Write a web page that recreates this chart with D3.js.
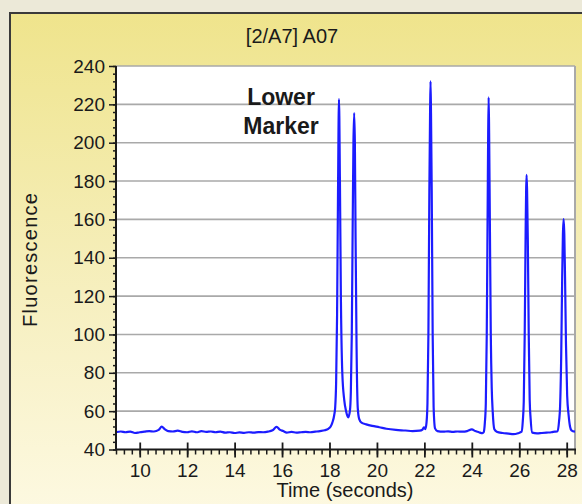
<!DOCTYPE html>
<html>
<head>
<meta charset="utf-8">
<script src="https://cdn.jsdelivr.net/npm/d3@7"></script>
<style>
  body { margin: 0; background: #ece9d8; }
  svg { display: block; }
  text { font-family: "Liberation Sans", Arial, sans-serif; fill: #1a1a1a; }
</style>
</head>
<body>
<div id="chart"></div>
<script>
// chart text
const chartTitle = "[2/A7] A07";
const xLabel = "Time (seconds)";
const yLabel = "Fluorescence";
const markerLines = ["Lower", "Marker"];

// axis ticks
const xTicks = [10, 12, 14, 16, 18, 20, 22, 24, 26, 28];
const yTicks = [40, 60, 80, 100, 120, 140, 160, 180, 200, 220, 240];

// trace: time (s) and fluorescence
const traceTime = [
  9.0, 9.2, 9.4, 9.6, 9.8, 10.0, 10.2, 10.4, 10.6, 10.8, 10.93, 11.05, 11.2, 11.4, 11.6, 11.8,
  12.0, 12.2, 12.4, 12.6, 12.8, 13.0, 13.2, 13.4, 13.6, 13.8, 14.0, 14.2, 14.4, 14.6, 14.8,
  15.0, 15.2, 15.4, 15.6, 15.77, 15.9, 16.05, 16.2, 16.4, 16.6, 16.8, 17.0, 17.2, 17.4, 17.6,
  17.8, 17.95, 18.05, 18.12,
  18.2, 18.24, 18.28, 18.32, 18.36, 18.40, 18.44, 18.48, 18.54, 18.62, 18.70, 18.79,
  18.86, 18.90, 18.94, 18.98, 19.01, 19.04, 19.07, 19.10, 19.14, 19.19, 19.25,
  19.35, 19.55, 19.8, 20.1, 20.4, 20.8, 21.2, 21.5, 21.8, 21.92, 21.98, 22.04,
  22.09, 22.13, 22.17, 22.21, 22.24, 22.26, 22.28, 22.31, 22.35, 22.39, 22.45, 22.55,
  22.8, 23.0, 23.2, 23.4, 23.6, 23.8, 24.0, 24.15, 24.3, 24.45,
  24.5, 24.55, 24.59, 24.63, 24.67, 24.69, 24.71, 24.73, 24.76, 24.80, 24.84, 24.88, 24.95, 25.05,
  25.3, 25.55, 25.75, 25.95, 26.1,
  26.15, 26.19, 26.23, 26.27, 26.29, 26.31, 26.33, 26.36, 26.40, 26.44, 26.48, 26.55,
  26.75, 26.95, 27.15, 27.35, 27.5, 27.62,
  27.68, 27.72, 27.77, 27.81, 27.84, 27.87, 27.90, 27.93, 27.97, 28.02, 28.08, 28.14, 28.2, 28.35
];
const traceFluor = [
  49.0, 49.4, 49.0, 49.3, 48.6, 49.0, 49.3, 49.6, 49.4, 50.2, 51.9, 50.6, 49.6, 49.4, 49.8, 49.2,
  49.0, 49.5, 49.0, 49.6, 49.2, 49.4, 49.0, 49.3, 48.8, 49.0, 48.6, 48.9, 48.7, 49.0, 48.8,
  49.1, 49.0, 49.3, 50.0, 51.8, 50.4, 49.6, 48.8, 49.2, 48.8, 49.0, 49.2, 49.0, 49.3, 49.6,
  50.0, 50.8, 52.0, 54.0,
  58, 62, 75, 110, 175, 222.7, 180, 120, 80, 66, 60, 56.8,
  60, 70, 100, 160, 200, 215.5, 200, 150, 95, 62, 56,
  54.0, 53.1, 52.3, 51.6, 50.8, 50.2, 49.9, 49.6, 49.8, 50.4, 51.5, 50.6,
  54, 64, 100, 175, 215, 232, 215, 175, 100, 62, 51, 49.6,
  49.3, 49.5, 49.2, 49.4, 49.3, 49.6, 50.5, 49.6, 49.0, 48.5,
  49, 54, 64, 100, 170, 205, 223.7, 205, 160, 100, 72, 60, 50.5, 49.3,
  48.6, 48.3, 48.0, 48.5, 49.3,
  55, 65, 100, 155, 175, 183.2, 175, 150, 100, 66, 56, 48.8,
  48.4, 48.6, 48.8, 49.0, 49.3, 49.5,
  55, 62, 90, 130, 152, 160.2, 152, 130, 95, 68, 58, 52, 50, 49.3
];

const W = 582, H = 504;
const plot = { left: 116, right: 575, top: 66, bottom: 449.5 };

const svg = d3.select("#chart").append("svg")
  .attr("width", W)
  .attr("height", H);

// panel gradient
const defs = svg.append("defs");
const grad = defs.append("linearGradient")
  .attr("id", "panelGrad")
  .attr("x1", 0).attr("y1", 0).attr("x2", 0).attr("y2", 1);
grad.append("stop").attr("offset", "0%").attr("stop-color", "#efe48c");
grad.append("stop").attr("offset", "55%").attr("stop-color", "#f6efbe");
grad.append("stop").attr("offset", "100%").attr("stop-color", "#fdf9e2");

defs.append("clipPath").attr("id", "plotClip")
  .append("rect")
  .attr("x", plot.left).attr("y", plot.top)
  .attr("width", plot.right - plot.left)
  .attr("height", plot.bottom - plot.top);

// background panel
svg.append("rect")
  .attr("x", 10).attr("y", 13)
  .attr("width", W).attr("height", H)
  .attr("fill", "url(#panelGrad)")
  .attr("stroke", "#3a3a3a")
  .attr("stroke-width", 2);

// scales
const x = d3.scaleLinear().domain([9, 28.35]).range([plot.left, plot.right]);
const y = d3.scaleLinear().domain([40, 240]).range([plot.bottom, plot.top]);

// plot area
svg.append("rect")
  .attr("x", plot.left).attr("y", plot.top)
  .attr("width", plot.right - plot.left)
  .attr("height", plot.bottom - plot.top)
  .attr("fill", "#fff");

// gridlines
svg.append("g")
  .selectAll("line")
  .data(yTicks.filter(d => d > 40))
  .enter().append("line")
  .attr("x1", plot.left).attr("x2", plot.right)
  .attr("y1", d => y(d)).attr("y2", d => y(d))
  .attr("stroke", "#a9a9a9")
  .attr("stroke-width", 1.6);

// right border
svg.append("line")
  .attr("x1", plot.right).attr("x2", plot.right)
  .attr("y1", plot.top).attr("y2", plot.bottom)
  .attr("stroke", "#a9a9a9")
  .attr("stroke-width", 2);

// trace
const points = traceTime.map((t, i) => [t, traceFluor[i]]);
const line = d3.line()
  .x(d => x(d[0]))
  .y(d => y(d[1]))
  .curve(d3.curveMonotoneX);

svg.append("path")
  .datum(points)
  .attr("clip-path", "url(#plotClip)")
  .attr("fill", "none")
  .attr("stroke", "#1c1cff")
  .attr("stroke-width", 2.2)
  .attr("stroke-linejoin", "round")
  .attr("d", line);

// y axis: minor then major
svg.append("g")
  .attr("transform", `translate(${plot.left},0)`)
  .call(d3.axisLeft(y).tickValues(d3.range(40, 241, 4)).tickSize(3).tickFormat(""))
  .call(g => g.select(".domain").remove())
  .call(g => g.selectAll("line").attr("stroke", "#1a1a1a").attr("stroke-width", 1.5));

const yAxis = svg.append("g")
  .attr("transform", `translate(${plot.left},0)`)
  .call(d3.axisLeft(y).tickValues(yTicks).tickSize(7).tickPadding(4))
  .call(g => g.select(".domain").remove());
yAxis.selectAll("line").attr("stroke", "#1a1a1a").attr("stroke-width", 1.5);
yAxis.selectAll("text")
  .style("font-family", '"Liberation Sans", Arial, sans-serif')
  .style("font-size", "19px")
  .attr("fill", "#1a1a1a");

// x axis: minor then major
svg.append("g")
  .attr("transform", `translate(0,${plot.bottom})`)
  .call(d3.axisBottom(x).tickValues(d3.range(-3, 56).map(i => 10 + i / 3)).tickSize(5).tickFormat(""))
  .call(g => g.select(".domain").remove())
  .call(g => g.selectAll("line").attr("stroke", "#1a1a1a").attr("stroke-width", 1.5));

const xAxis = svg.append("g")
  .attr("transform", `translate(0,${plot.bottom})`)
  .call(d3.axisBottom(x).tickValues(xTicks).tickSize(8).tickPadding(6))
  .call(g => g.select(".domain").remove());
xAxis.selectAll("line")
  .attr("y1", -7)
  .attr("stroke", "#1a1a1a").attr("stroke-width", 1.8);
xAxis.selectAll("text")
  .style("font-family", '"Liberation Sans", Arial, sans-serif')
  .style("font-size", "19px")
  .attr("fill", "#1a1a1a");

// axis lines
svg.append("line")
  .attr("x1", plot.left).attr("x2", plot.left)
  .attr("y1", plot.top).attr("y2", plot.bottom)
  .attr("stroke", "#1a1a1a").attr("stroke-width", 2);
svg.append("line")
  .attr("x1", plot.left).attr("x2", plot.right + 1)
  .attr("y1", plot.bottom).attr("y2", plot.bottom)
  .attr("stroke", "#1a1a1a").attr("stroke-width", 2);

// title
svg.append("text")
  .attr("x", 292).attr("y", 43)
  .attr("text-anchor", "middle")
  .style("font-size", "20px")
  .text(chartTitle);

// axis labels
svg.append("text")
  .attr("x", 345).attr("y", 497)
  .attr("text-anchor", "middle")
  .style("font-size", "20px")
  .text(xLabel);

svg.append("text")
  .attr("transform", "translate(37,260) rotate(-90)")
  .attr("text-anchor", "middle")
  .style("font-size", "20px")
  .attr("textLength", 134)
  .text(yLabel);

// annotation
svg.append("g")
  .selectAll("text")
  .data(markerLines)
  .enter().append("text")
  .attr("x", 281)
  .attr("y", (d, i) => 105 + i * 29)
  .attr("text-anchor", "middle")
  .style("font-size", "23px")
  .style("font-weight", "bold")
  .attr("fill", "#000")
  .text(d => d);
</script>
</body>
</html>
